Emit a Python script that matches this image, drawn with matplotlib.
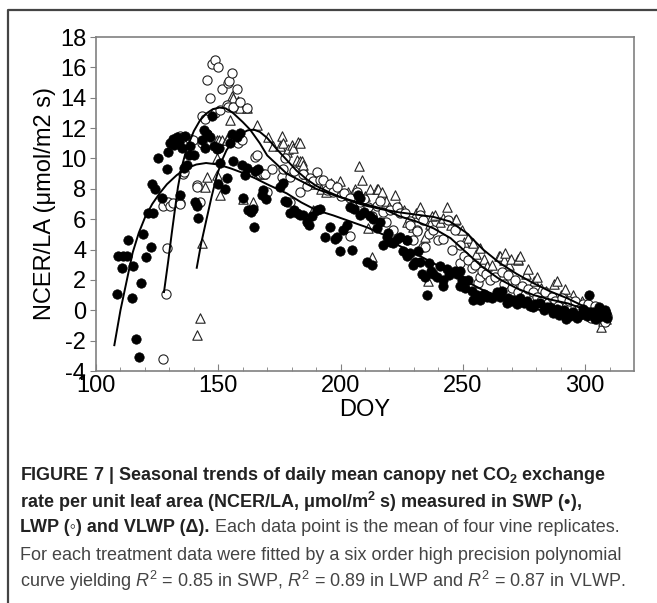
import matplotlib
matplotlib.use("Agg")
import matplotlib.pyplot as plt
from matplotlib import font_manager
from matplotlib.lines import Line2D

# fitted curves
swp_fit_doy = [107.5, 110, 112.5, 115, 117.5, 120, 123, 126, 129, 133, 137, 141, 145, 150, 155, 160,
               165, 170, 178, 184, 190, 197, 204, 211, 218, 224, 231, 238, 245, 252, 258, 265, 272,
               279, 286, 293, 300, 306, 309]
swp_fit = [-2.3, 0.0, 1.9, 3.8, 5.1, 6.1, 7.0, 7.7, 8.3, 8.9, 9.35, 9.6, 9.7, 9.6, 9.35, 9.05,
           8.7, 8.3, 7.7, 7.1, 6.6, 6.25, 5.85, 5.45, 4.95, 4.25, 3.7, 3.1, 2.5, 1.85, 1.35, 0.9, 0.45,
           0.1, -0.12, -0.3, -0.4, -0.45, -0.45]

lwp_fit_doy = [127.8, 129.5, 131, 133.5, 135, 137, 140, 142.5, 145, 147.8, 150.5, 153, 156, 160, 163,
               167, 170, 174, 178, 184, 190, 197, 204, 211, 218, 224, 231, 238, 245, 251.5, 258, 265,
               272, 279, 286, 293, 300, 306, 309]
lwp_fit = [1.2, 3.2, 5.1, 8.1, 9.4, 10.6, 11.8, 12.5, 12.95, 13.25, 13.35, 13.3, 13.0, 12.4, 11.9,
           11.0, 10.2, 9.6, 9.0, 8.5, 8.0, 7.6, 7.25, 6.95, 6.65, 6.2, 5.85, 5.4, 4.75, 3.8, 2.85, 2.05,
           1.45, 1.0, 0.7, 0.45, 0.05, -0.4, -0.55]

vlwp_fit_doy = [141.2, 143, 145.2, 147.3, 149.3, 151.3, 153.4, 156, 159, 162, 164.5, 167, 170, 174,
                178, 182, 186, 190, 195, 200, 205, 210, 217, 224, 231, 238, 244.7, 251.5, 258.3,
                265.2, 272, 278.7, 285.6, 292.6, 299, 306, 309]
vlwp_fit = [2.8, 4.4, 6.0, 7.5, 8.8, 9.8, 10.55, 11.15, 11.6, 11.85, 11.9, 11.75, 11.35, 10.6,
            9.9, 9.2, 8.65, 8.2, 7.8, 7.45, 7.15, 6.9, 6.65, 6.45, 6.3, 6.15, 5.85, 5.1, 4.0,
            3.1, 2.4, 1.8, 1.25, 0.8, 0.3, -0.2, -0.45]

# daily means, SWP (filled circles)
swp_doy = [108.5, 109.0, 110.5, 111.2, 112.6, 113.2, 114.6, 115.3, 116.2, 117.7, 118.5, 119.4, 120.3,
           121.4, 122.4, 122.8, 123.5, 124.2, 125.5, 126.9, 128.9, 129.6, 130.3, 131.3, 132.0, 133.0,
           134.0, 134.4, 135.1, 135.8, 136.4, 137.1, 138.0, 138.5, 139.9, 140.5, 141.4, 141.8, 143.3,
           144.0, 144.7, 145.3, 146.7, 147.4, 148.1, 149.5, 150.1, 150.8, 150.0, 152.7, 153.4, 154.8,
           155.5, 156.2, 157.6, 158.9, 159.6, 160.2, 161.0, 161.6, 162.3, 163.5, 164.3, 164.5, 165.0,
           166.4, 167.7, 168.4, 169.5, 175.2, 176.6, 177.2, 177.9, 179.3, 181.0, 182.0, 183.4, 184.8,
           186.1, 187.0, 188.2, 190.2, 191.6, 193.6, 195.6, 197.7, 198.4, 199.8, 201.2, 202.5, 203.9,
           204.6, 205.3, 207.2, 208.0, 208.0, 209.5, 211.0, 212.1, 212.7, 213.4, 215.0, 216.1, 217.5,
           218.8, 219.5, 220.2, 221.5, 222.9, 224.3, 225.5, 227.0, 227.0, 228.4, 229.7, 230.4, 231.8,
           232.5, 233.2, 234.6, 235.2, 236.0, 237.0, 238.0, 239.3, 240.5, 242.0, 242.0, 243.4, 244.5,
           246.8, 247.5, 248.8, 248.8, 249.5, 251.0, 252.2, 253.6, 254.3, 255.0, 256.0, 257.0, 258.5,
           260.0, 262.0, 263.9, 265.2, 265.9, 267.9, 268.5, 270.0, 270.7, 272.0, 273.4, 275.0, 276.2,
           277.5, 278.5, 279.5, 281.6, 283.0, 284.5, 285.7, 286.7, 288.4, 289.5, 291.2, 292.1, 292.8,
           294.0, 295.2, 296.5, 298.0, 299.0, 300.7, 301.4, 302.0, 303.4, 304.0, 304.8, 305.5, 306.1,
           307.0, 308.0, 308.5, 309.0]
swp_ncer = [1.1, 3.6, 2.8, 3.6, 3.55, 4.6, 0.8, 2.9, -1.9, -3.1, 1.8, 5.0, 3.5,
            6.4, 4.2, 8.3, 6.4, 8.0, 10.0, 7.4, 9.3, 10.4, 11.0, 11.3, 10.9, 11.4,
            11.1, 7.6, 10.7, 9.4, 11.5, 9.6, 10.2, 10.8, 10.2, 7.1, 6.9, 6.1, 11.2,
            11.9, 10.7, 11.6, 11.4, 12.8, 10.8, 10.6, 10.7, 9.7, 8.3, 8.0, 8.7, 11.0,
            11.6, 9.8, 11.4, 11.7, 9.6, 7.4, 8.9, 9.4, 6.6, 6.5, 6.7, 5.5, 9.2,
            9.3, 7.6, 7.9, 7.3, 8.1, 8.4, 7.2, 7.1, 6.4, 6.6, 6.4, 6.3, 6.3,
            5.8, 5.6, 6.2, 6.6, 6.7, 4.8, 5.5, 4.7, 4.8, 3.9, 5.3, 5.6, 6.8,
            4.0, 6.7, 7.6, 7.4, 6.3, 6.5, 3.2, 6.2, 3.0, 6.0, 5.4, 5.8, 4.3,
            4.8, 5.1, 4.5, 4.4, 4.7, 4.8, 3.9, 3.6, 4.6, 3.8, 3.0, 3.2, 3.9,
            3.2, 2.4, 2.2, 1.0, 3.1, 2.6, 2.4, 2.2, 2.9, 2.0, 1.6, 2.7, 2.3,
            2.6, 2.4, 2.6, 1.6, 2.0, 1.5, 2.0, 1.3, 0.7, 0.8, 1.0, 0.7, 1.1,
            0.9, 0.8, 1.2, 0.9, 1.3, 0.5, 0.8, 0.6, 0.7, 0.4, 0.8, 0.5, 0.6,
            0.3, 0.2, 0.4, 0.5, 0.0, 0.2, 0.2, -0.2, 0.1, -0.3, 0.0, -0.6, -0.2,
            -0.4, -0.1, -0.5, -0.3, 0.1, -0.4, 1.0, -0.1, -0.1, -0.6, -0.5, 0.2, -0.2,
            -0.4, 0.0, -0.2, -0.5]

# LWP (open circles)
lwp_doy = [127.3, 128.6, 128.9, 127.5, 129.6, 130.3, 131.6, 134.3, 134.4, 135.7, 135.8, 131.5, 133.0,
           134.5, 135.7, 138.4, 139.8, 141.2, 141.2, 142.5, 143.2, 143.3, 144.6, 145.2, 145.3, 146.6,
           147.3, 148.7, 149.8, 148.7, 150.8, 151.4, 153.4, 154.1, 154.5, 154.1, 155.5, 156.2, 157.5,
           158.0, 158.9, 159.5, 161.6, 165.0, 165.7, 165.7, 167.1, 168.4, 169.1, 169.8, 172.0, 175.9,
           176.6, 177.2, 179.3, 179.3, 181.0, 183.4, 184.8, 186.1, 187.5, 188.8, 190.2, 191.5, 193.0,
           194.5, 195.6, 197.0, 198.4, 200.0, 201.5, 203.9, 203.9, 205.0, 206.6, 208.0, 209.5, 210.7,
           211.4, 213.0, 214.8, 216.0, 217.5, 218.5, 220.2, 221.6, 223.0, 224.3, 226.4, 227.0, 228.4,
           228.4, 229.7, 231.1, 231.1, 232.5, 233.9, 233.9, 234.6, 236.0, 238.0, 240.0, 242.0, 244.1,
           245.5, 246.8, 248.8, 248.8, 250.5, 252.2, 253.6, 255.0, 256.3, 257.0, 257.7, 259.5, 261.0,
           263.0, 265.9, 267.0, 268.6, 270.0, 271.3, 272.5, 274.1, 275.5, 276.8, 278.9, 280.5, 282.0,
           283.6, 285.0, 286.5, 287.7, 289.0, 290.4, 292.0, 293.5, 295.9, 297.5, 299.0, 300.5, 301.3,
           302.5, 304.0, 305.0, 306.1, 307.0, 308.0, 309.0]
lwp_ncer = [-3.2, 1.1, 4.1, 6.9, 7.1, 6.9, 7.05, 7.05, 7.0, 9.0, 9.1, 11.0, 11.3,
            11.5, 11.4, 11.3, 11.2, 8.25, 8.1, 7.15, 12.8, 11.0, 12.6, 15.2, 11.6, 14.0,
            16.2, 16.5, 16.0, 13.0, 13.2, 14.6, 13.5, 15.0, 15.1, 13.4, 15.6, 13.4, 14.6,
            11.0, 13.7, 11.2, 13.3, 10.1, 10.2, 9.1, 9.0, 9.0, 9.0, 7.8, 9.3, 8.8,
            9.3, 10.0, 8.8, 7.1, 9.2, 7.8, 9.0, 8.2, 8.7, 8.5, 9.1, 8.6, 8.6,
            7.9, 8.3, 7.8, 8.1, 7.5, 7.7, 7.4, 4.9, 6.9, 7.8, 7.1, 7.3, 6.4,
            6.8, 6.2, 6.9, 7.2, 6.5, 5.8, 6.6, 5.3, 6.8, 6.4, 6.4, 4.6, 5.9,
            5.6, 4.6, 5.3, 5.2, 6.3, 5.95, 4.2, 4.2, 5.0, 5.3, 4.6, 4.7, 5.95,
            4.0, 5.3, 4.3, 3.1, 3.6, 3.3, 2.8, 3.0, 1.8, 2.2, 2.6, 2.4, 2.0,
            2.2, 2.5, 1.7, 2.3, 1.5, 2.0, 1.2, 1.6, 1.0, 1.4, 1.2, 0.9, 0.6,
            1.2, 0.5, 0.9, 0.6, 0.3, 0.8, 0.2, 0.6, 0.6, 0.1, 0.4, -0.2, 0.4,
            -0.5, 0.3, -0.6, 0.1, -0.3, -0.8, -0.4]

# VLWP (open triangles)
vlwp_doy = [141.4, 142.5, 143.3, 144.6, 145.2, 149.3, 149.4, 150.8, 149.3, 150.1, 151.4, 153.4, 153.5,
            154.8, 155.5, 156.2, 156.8, 158.2, 158.9, 160.3, 161.6, 164.3, 165.7, 168.0, 170.4, 172.5,
            175.2, 176.0, 176.6, 177.9, 178.7, 180.0, 180.7, 182.0, 182.7, 183.4, 183.4, 184.1, 184.8,
            186.0, 187.5, 188.9, 190.0, 192.0, 194.0, 196.0, 198.0, 199.8, 201.0, 203.2, 205.9, 207.7,
            208.6, 210.0, 211.3, 212.0, 212.7, 214.8, 215.4, 216.8, 218.5, 220.0, 222.3, 224.0, 226.0,
            227.0, 229.7, 231.0, 232.5, 234.5, 235.8, 236.7, 237.2, 238.5, 240.7, 242.0, 243.4, 245.0,
            246.8, 247.4, 249.5, 250.5, 252.2, 254.0, 255.5, 257.0, 258.5, 260.0, 262.0, 264.9, 265.2,
            266.9, 267.2, 269.0, 269.9, 272.4, 272.7, 273.4, 275.8, 276.8, 279.2, 280.2, 282.0, 284.0,
            287.3, 288.4, 290.0, 291.4, 291.8, 294.1, 295.2, 297.0, 298.6, 300.0, 301.3, 303.0, 305.4,
            306.4, 307.5, 308.4]
vlwp_ncer = [-1.6, -0.5, 4.4, 8.1, 8.8, 8.9, 10.0, 7.6, 11.2, 11.2, 11.2, 11.3, 11.2,
             12.5, 14.1, 14.0, 13.4, 13.8, 13.3, 7.3, 13.3, 7.1, 12.2, 9.0, 11.4, 10.8,
             10.8, 11.5, 11.0, 10.4, 10.6, 10.9, 10.7, 9.9, 11.1, 9.8, 11.0, 9.8, 9.6,
             9.0, 8.3, 6.6, 8.9, 8.0, 7.8, 8.4, 8.2, 8.5, 7.6, 7.8, 8.0, 9.5,
             8.6, 7.5, 5.4, 8.0, 3.5, 8.0, 8.0, 7.8, 7.2, 6.8, 7.6, 6.9, 6.6,
             5.8, 5.5, 6.4, 6.8, 4.8, 1.9, 5.7, 6.2, 6.3, 5.8, 6.1, 6.8, 5.6,
             5.95, 6.0, 5.3, 4.5, 4.75, 4.4, 3.7, 4.1, 3.4, 2.9, 3.0, 3.6, 3.6,
             3.3, 3.8, 3.0, 3.4, 3.3, 3.4, 3.6, 2.4, 2.7, 1.9, 2.2, 1.5, 1.3,
             1.7, 1.9, 1.0, 1.1, 1.4, 0.7, 1.0, 0.3, 0.6, 0.0, 0.5, -0.4, -0.3,
             -1.1, -0.7, -0.6]

available = {f.name for f in font_manager.fontManager.ttflist}
cap_font = "Liberation Sans Narrow" if "Liberation Sans Narrow" in available else "Liberation Sans"

plt.rcParams['font.family'] = ['Liberation Sans', 'DejaVu Sans']
plt.rcParams['axes.unicode_minus'] = False
plt.rcParams['mathtext.fontset'] = 'custom'
plt.rcParams['mathtext.rm'] = cap_font
plt.rcParams['mathtext.it'] = cap_font + ':italic'
plt.rcParams['mathtext.bf'] = cap_font + ':bold'

fig = plt.figure(figsize=(6.57, 6.03), dpi=100)
ax = fig.add_axes([96 / 657, 1 - 371 / 603, 538 / 657, 334 / 603])

ax.scatter(vlwp_doy, vlwp_ncer, s=46, marker='^', facecolors='white', edgecolors='#222222',
           linewidths=0.8, zorder=2)
ax.scatter(lwp_doy, lwp_ncer, s=44, marker='o', facecolors='white', edgecolors='#222222',
           linewidths=0.8, zorder=3)
ax.scatter(swp_doy, swp_ncer, s=46, marker='o', facecolors='black', edgecolors='black',
           linewidths=0.5, zorder=4)
for xs, ys in [(swp_fit_doy, swp_fit), (lwp_fit_doy, lwp_fit), (vlwp_fit_doy, vlwp_fit)]:
    ax.plot(xs, ys, color='black', lw=1.4, zorder=5)

ax.set_xlim(100, 320)
ax.set_ylim(-4, 18)
ax.set_xticks([100, 150, 200, 250, 300])
ax.set_xticks(range(110, 320, 10), minor=True)
ax.set_yticks(range(-4, 19, 2))
for sp in ax.spines.values():
    sp.set_color('#808080')
    sp.set_linewidth(1.2)
ax.tick_params(axis='x', which='major', direction='in', length=5, color='#808080', labelsize=17, pad=3)
ax.tick_params(axis='x', which='minor', direction='in', length=3, color='#808080')
ax.tick_params(axis='y', direction='out', length=4, color='#808080', labelsize=17, pad=3)
ax.set_xlabel('DOY', fontsize=17, labelpad=1)
ax.set_ylabel('NCER/LA (μmol/m2 s)', fontsize=17, labelpad=3)

# outer frame (left and top edges)
fig.add_artist(Line2D([8 / 657, 8 / 657, 1.0], [0.0, 1 - 10 / 603, 1 - 10 / 603],
                      transform=fig.transFigure, color='#444444', lw=1.6))

cs = 13
x0 = 20 / 657
lines_y = [476, 502, 528, 555, 581]
fig.text(x0, 1 - lines_y[0] / 603, r'FIGURE 7 | Seasonal trends of daily mean canopy net CO$_\mathbf{2}$ exchange',
         fontsize=cs, fontweight='bold', family=cap_font, va='center', color='#222222')
fig.text(x0, 1 - lines_y[1] / 603, r'rate per unit leaf area (NCER/LA, μmol/m$^\mathbf{2}$ s) measured in SWP (•),',
         fontsize=cs, fontweight='bold', family=[cap_font, 'DejaVu Sans'], va='center', color='#222222')
t3 = fig.text(x0, 1 - lines_y[2] / 603, 'LWP (◦) and VLWP (Δ).', fontsize=cs, fontweight='bold',
              family=[cap_font, 'DejaVu Sans'], va='center', color='#222222')
t3b = fig.text(x0, 1 - lines_y[2] / 603, ' Each data point is the mean of four vine replicates.',
               fontsize=cs, family=cap_font, va='center', color='#444444')
fig.text(x0, 1 - lines_y[3] / 603, 'For each treatment data were fitted by a six order high precision polynomial',
         fontsize=cs, family=cap_font, va='center', color='#444444')
fig.text(x0, 1 - lines_y[4] / 603,
         r'curve yielding $R^2$ = 0.85 in SWP, $R^2$ = 0.89 in LWP and $R^2$ = 0.87 in VLWP.',
         fontsize=cs, family=cap_font, va='center', color='#444444')

# place the regular part of line 3 right after the bold part
fig.canvas.draw()
bb = t3.get_window_extent(fig.canvas.get_renderer())
t3b.set_x(bb.x1 / fig.bbox.width)

fig.savefig('out.png', dpi=100)
